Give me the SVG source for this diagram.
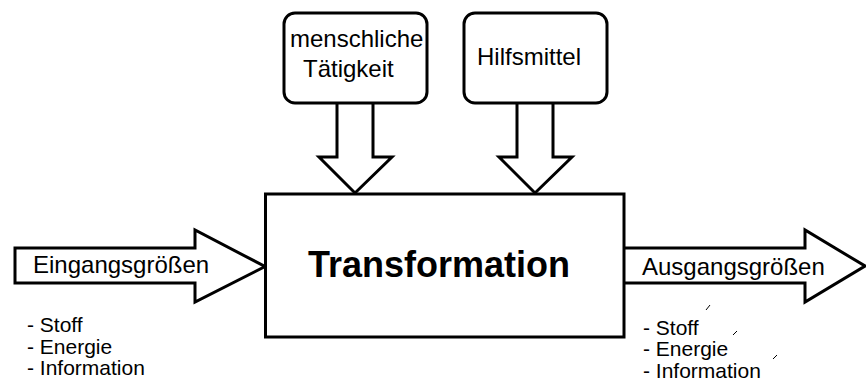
<svg xmlns="http://www.w3.org/2000/svg" width="866" height="383" viewBox="0 0 866 383">
<style>
.shape{fill:#fff;stroke:#000;stroke-width:3;stroke-linejoin:miter}
.lbl{font-family:"Liberation Sans",Arial,sans-serif;font-size:24px;fill:#000}
.lst{font-family:"Liberation Sans",Arial,sans-serif;font-size:21px;fill:#000}
.big{font-family:"Liberation Sans",Arial,sans-serif;font-size:36px;font-weight:bold;fill:#000}
.tick{stroke:#000;stroke-width:1;fill:none}
</style>
<rect width="866" height="383" fill="#fff"/>
<g id="connectors">
<path class="shape" d="M337,103 V157 H319 L355,193 L392,157 H373 V103"/>
<path class="shape" d="M517,103 V157 H499 L535,193 L572,157 H553 V103"/>
<path class="shape" d="M15,248 H195 V230 L265,266.5 L195,302 V283 H15 Z"/>
<path class="shape" d="M624,248 H805 V230 L865,266 L805,302 V283 H624"/>
</g>
<g id="menschliche">
<rect class="shape" x="284" y="13" width="143" height="90" rx="11"/>
<text class="lbl" x="290" y="47">menschliche</text>
<text class="lbl" x="303" y="77">Tätigkeit</text>
</g>
<g id="hilfsmittel">
<rect class="shape" x="464" y="13" width="143" height="90" rx="11"/>
<text class="lbl" x="477" y="65">Hilfsmittel</text>
</g>
<g id="transformation">
<rect class="shape" x="265.5" y="194" width="358.5" height="143"/>
<text class="big" x="308" y="277">Transformation</text>
</g>
<g id="eingang">
<text class="lbl" x="33" y="273">Eingangsgrößen</text>
<text class="lst" x="27" y="332">- Stoff</text>
<text class="lst" x="27" y="353.5">- Energie</text>
<text class="lst" x="27" y="375">- Information</text>
</g>
<g id="ausgang">
<text class="lbl" x="642" y="275">Ausgangsgrößen</text>
<text class="lst" x="643" y="334.5">- Stoff</text>
<text class="lst" x="643" y="356">- Energie</text>
<text class="lst" x="643" y="377.5">- Information</text>
<path class="tick" d="M706,310 L710,305 M733,335 L737,331 M773,359 L777,355"/>
</g>
</svg>
